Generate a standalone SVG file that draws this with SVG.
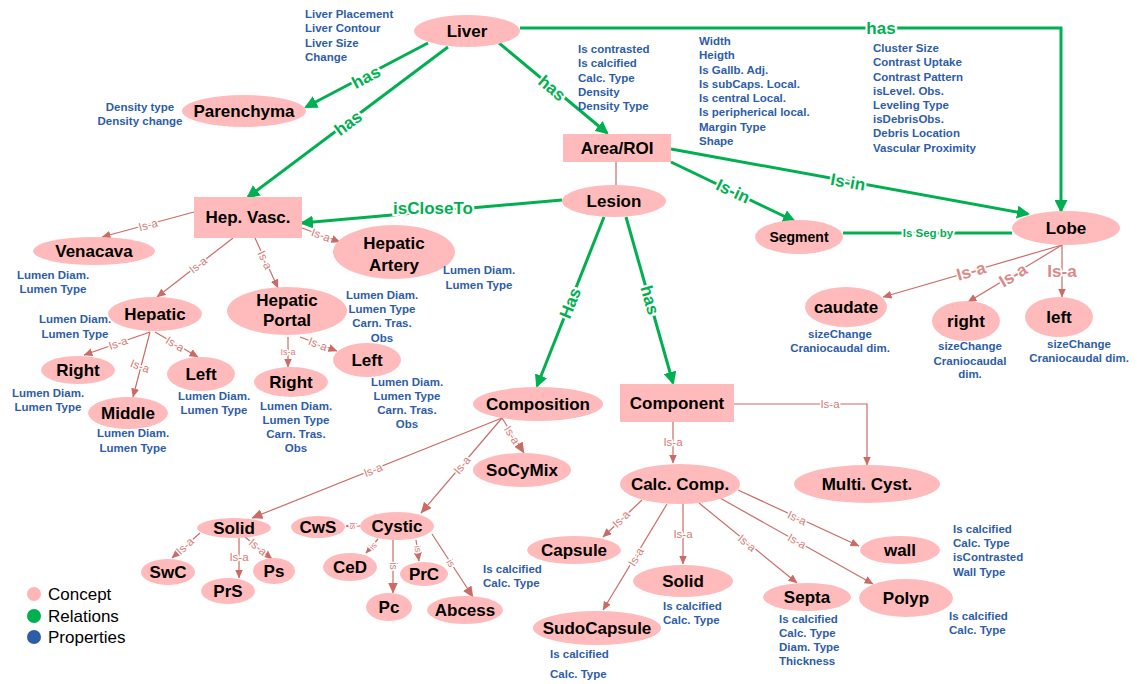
<svg xmlns="http://www.w3.org/2000/svg" width="1137" height="684" viewBox="0 0 1137 684">
<defs>
<marker id="ga" viewBox="0 0 13 13" markerWidth="13" markerHeight="13" refX="11" refY="6.5" orient="auto" markerUnits="userSpaceOnUse"><path d="M0,0 L13,6.5 L0,13 z" fill="#00B050"/></marker>
<marker id="ra" viewBox="0 0 9 8" markerWidth="9" markerHeight="8" refX="8.5" refY="4" orient="auto" markerUnits="userSpaceOnUse"><path d="M0,0 L9,4 L0,8 z" fill="#CC6B66"/></marker>
<marker id="rb" viewBox="0 0 11 10" markerWidth="11" markerHeight="10" refX="10.5" refY="5" orient="auto" markerUnits="userSpaceOnUse"><path d="M0,0 L11,5 L0,10 z" fill="#CC6B66"/></marker>
</defs>
<style>
.c{fill:#FFBBBB;stroke:none}
.t{font-family:"Liberation Sans",Arial,sans-serif;font-weight:bold;font-size:17px;fill:#000;text-anchor:middle}
.p{font-family:"Liberation Sans",Arial,sans-serif;font-weight:bold;font-size:11.5px;fill:#2E5DA8}
.pm{text-anchor:middle}
.g{fill:none;stroke:#00B050;stroke-width:3}
.gl{font-family:"Liberation Sans",Arial,sans-serif;font-weight:bold;font-size:17px;fill:#00B050;text-anchor:middle;stroke:#fff;stroke-width:4;paint-order:stroke}
.r{fill:none;stroke:#CC6B66;stroke-width:1.2}
.rl{font-family:"Liberation Sans",Arial,sans-serif;font-size:11.5px;fill:#D47C77;text-anchor:middle;stroke:#fff;stroke-width:3;paint-order:stroke}
.rL{font-family:"Liberation Sans",Arial,sans-serif;font-weight:bold;font-size:17px;fill:#D98A86;text-anchor:middle;stroke:#fff;stroke-width:3;paint-order:stroke}
.lg{font-family:"Liberation Sans",Arial,sans-serif;font-size:17px;fill:#000}
</style>
<rect width="1137" height="684" fill="#fff"/>

<g id="connectors">
<!-- green relations -->
<line class="g" x1="428" y1="43" x2="306" y2="107" marker-end="url(#ga)"/>
<line class="g" x1="448" y1="47" x2="248" y2="197" marker-end="url(#ga)"/>
<line class="g" x1="499" y1="43" x2="607" y2="133" marker-end="url(#ga)"/>
<path class="g" d="M520,28 H1061 V211" marker-end="url(#ga)"/>
<line class="g" x1="671" y1="149" x2="1028" y2="214" marker-end="url(#ga)"/>
<line class="g" x1="671" y1="162" x2="794" y2="221" marker-end="url(#ga)"/>
<line class="g" x1="843" y1="233" x2="1012" y2="233"/>
<line class="g" x1="562" y1="200" x2="302" y2="223" marker-end="url(#ga)"/>
<line class="g" x1="604" y1="217" x2="537" y2="386" marker-end="url(#ga)"/>
<line class="g" x1="626" y1="217" x2="673" y2="383" marker-end="url(#ga)"/>
<text class="gl" transform="translate(366,77) rotate(-28)" dy="0.35em">has</text>
<text class="gl" transform="translate(348,123) rotate(-37)" dy="0.35em">has</text>
<text class="gl" transform="translate(552,88) rotate(40)" dy="0.35em">has</text>
<text class="gl" x="881" y="28" dy="0.35em">has</text>
<text class="gl" transform="translate(848,182) rotate(10)" dy="0.35em">Is-in</text>
<text class="gl" transform="translate(733,191) rotate(25)" dy="0.35em">Is-in</text>
<text class="gl" x="928" y="233" dy="0.35em" style="font-size:11.5px">Is Seg by</text>
<text class="gl" x="433" y="208" dy="0.35em">isCloseTo</text>
<text class="gl" transform="translate(570,303) rotate(-68)" dy="0.35em">Has</text>
<text class="gl" transform="translate(650,300) rotate(74)" dy="0.35em">has</text>

<!-- is-a relations -->
<line class="r" x1="616" y1="162" x2="616" y2="185"/>
<line class="r" x1="194" y1="212" x2="102" y2="237" marker-end="url(#ra)"/>
<line class="r" x1="302" y1="228" x2="340" y2="242" marker-end="url(#ra)"/>
<line class="r" x1="233" y1="238" x2="157" y2="297" marker-end="url(#ra)"/>
<line class="r" x1="255" y1="238" x2="278" y2="288" marker-end="url(#ra)"/>
<line class="r" x1="150" y1="332" x2="84" y2="355" marker-end="url(#ra)"/>
<line class="r" x1="150" y1="332" x2="133" y2="397" marker-end="url(#ra)"/>
<line class="r" x1="155" y1="332" x2="198" y2="357" marker-end="url(#ra)"/>
<line class="r" x1="288" y1="337" x2="288" y2="367" marker-end="url(#ra)"/>
<line class="r" x1="300" y1="337" x2="337" y2="351" marker-end="url(#ra)"/>
<line class="r" x1="502" y1="418" x2="252" y2="518" marker-end="url(#rb)"/>
<line class="r" x1="502" y1="418" x2="421" y2="513" marker-end="url(#rb)"/>
<line class="r" x1="502" y1="418" x2="524" y2="453" marker-end="url(#rb)"/>
<line class="r" x1="673" y1="422" x2="673" y2="463" marker-end="url(#ra)"/>
<path class="r" d="M734,404 H867 V465" marker-end="url(#ra)"/>
<line class="r" x1="200" y1="533" x2="172" y2="558" marker-end="url(#ra)"/>
<line class="r" x1="239" y1="538" x2="239" y2="578" marker-end="url(#ra)"/>
<line class="r" x1="245" y1="537" x2="272" y2="559" marker-end="url(#ra)"/>
<line class="r" x1="360" y1="526" x2="346" y2="526" marker-end="url(#ra)"/>
<line class="r" x1="378" y1="539" x2="366" y2="553" marker-end="url(#ra)"/>
<line class="r" x1="393" y1="540" x2="393" y2="593" marker-end="url(#rb)"/>
<line class="r" x1="416" y1="540" x2="419" y2="561" marker-end="url(#ra)"/>
<line class="r" x1="432" y1="534" x2="473" y2="597" marker-end="url(#rb)"/>
<line class="r" x1="642" y1="500" x2="603" y2="537" marker-end="url(#ra)"/>
<line class="r" x1="667" y1="504" x2="603" y2="610" marker-end="url(#ra)"/>
<line class="r" x1="683" y1="504" x2="683" y2="564" marker-end="url(#ra)"/>
<line class="r" x1="699" y1="503" x2="797" y2="583" marker-end="url(#ra)"/>
<line class="r" x1="720" y1="498" x2="873" y2="584" marker-end="url(#ra)"/>
<line class="r" x1="738" y1="490" x2="859" y2="546" marker-end="url(#ra)"/>
<line class="r" x1="1062" y1="245" x2="883" y2="297" marker-end="url(#ra)"/>
<line class="r" x1="1062" y1="245" x2="968" y2="302" marker-end="url(#ra)"/>
<line class="r" x1="1062" y1="245" x2="1062" y2="297" marker-end="url(#ra)"/>

<text class="rl" transform="translate(148,225) rotate(-15)" dy="0.35em">Is-a</text>
<text class="rl" transform="translate(321,235) rotate(20)" dy="0.35em">Is-a</text>
<text class="rl" transform="translate(198,265) rotate(-38)" dy="0.35em">Is-a</text>
<text class="rl" transform="translate(265,260) rotate(65)" dy="0.35em">Is-a</text>
<text class="rl" transform="translate(118,343) rotate(-19)" dy="0.35em">Is-a</text>
<text class="rl" transform="translate(140,366) rotate(20)" dy="0.35em">Is-a</text>
<text class="rl" transform="translate(175,344) rotate(30)" dy="0.35em">Is-a</text>
<text class="rl" x="288" y="352" dy="0.35em" style="font-size:9px">Is-a</text>
<text class="rl" transform="translate(318,344) rotate(21)" dy="0.35em">Is-a</text>
<text class="rl" transform="translate(373,470) rotate(-22)" dy="0.35em">Is-a</text>
<text class="rl" transform="translate(462,465) rotate(-50)" dy="0.35em">Is-a</text>
<text class="rl" transform="translate(512,435) rotate(58)" dy="0.35em">Is-a</text>
<text class="rl" x="673" y="442" dy="0.35em">Is-a</text>
<text class="rl" x="830" y="404" dy="0.35em">Is-a</text>
<text class="rl" transform="translate(185,546) rotate(-42)" dy="0.35em">Is-a</text>
<text class="rl" x="239" y="557" dy="0.35em">Is-a</text>
<text class="rl" transform="translate(258,547) rotate(39)" dy="0.35em">Is-a</text>
<text class="rl" transform="translate(353,526) rotate(90)" dy="0.35em" style="font-size:9px">is</text>
<text class="rl" transform="translate(373,546) rotate(-50)" dy="0.35em" style="font-size:9px">is</text>
<text class="rl" transform="translate(393,566) rotate(90)" dy="0.35em" style="font-size:10px">is</text>
<text class="rl" transform="translate(418,549) rotate(80)" dy="0.35em" style="font-size:9px">is</text>
<text class="rl" transform="translate(451,563) rotate(57)" dy="0.35em" style="font-size:10px">is</text>
<text class="rl" transform="translate(621,519) rotate(-44)" dy="0.35em">Is-a</text>
<text class="rl" transform="translate(636,557) rotate(-59)" dy="0.35em">Is-a</text>
<text class="rl" x="683" y="534" dy="0.35em">Is-a</text>
<text class="rl" transform="translate(747,543) rotate(39)" dy="0.35em">Is-a</text>
<text class="rl" transform="translate(797,541) rotate(29)" dy="0.35em">Is-a</text>
<text class="rl" transform="translate(797,518) rotate(25)" dy="0.35em">Is-a</text>
<text class="rL" transform="translate(971,271) rotate(-16)" dy="0.35em">Is-a</text>
<text class="rL" transform="translate(1013,275) rotate(-31)" dy="0.35em">Is-a</text>
<text class="rL" x="1062" y="271" dy="0.35em">Is-a</text>
</g>

<g id="liver"><ellipse class="c" cx="467" cy="31" rx="53" ry="16"/><text class="t" x="467" y="31" dy="0.35em">Liver</text>
<text class="p"><tspan x="305" y="18">Liver Placement</tspan><tspan x="305" y="32">Liver Contour</tspan><tspan x="305" y="47">Liver Size</tspan><tspan x="305" y="61">Change</tspan></text></g>
<g id="parenchyma"><ellipse class="c" cx="244" cy="111" rx="62" ry="16"/><text class="t" x="244" y="111" dy="0.35em">Parenchyma</text>
<text class="p pm"><tspan x="140" y="111">Density type</tspan><tspan x="140" y="125">Density change</tspan></text></g>
<g id="hepvasc"><rect class="c" x="194" y="197" width="108" height="41"/><text class="t" x="248" y="217" dy="0.35em">Hep. Vasc.</text></g>
<g id="arearoi"><rect class="c" x="563" y="134" width="108" height="28"/><text class="t" x="617" y="148" dy="0.35em">Area/ROI</text>
<text class="p"><tspan x="578" y="53">Is contrasted</tspan><tspan x="578" y="67">Is calcified</tspan><tspan x="578" y="82">Calc. Type</tspan><tspan x="578" y="96">Density</tspan><tspan x="578" y="110">Density Type</tspan></text></g>
<g id="lesion"><ellipse class="c" cx="614" cy="201" rx="52" ry="16"/><text class="t" x="614" y="201" dy="0.35em">Lesion</text>
<text class="p"><tspan x="699" y="45">Width</tspan><tspan x="699" y="59">Heigth</tspan><tspan x="699" y="74">Is Gallb. Adj.</tspan><tspan x="699" y="88">Is subCaps. Local.</tspan><tspan x="699" y="102">Is central Local.</tspan><tspan x="699" y="116">Is peripherical local.</tspan><tspan x="699" y="131">Margin Type</tspan><tspan x="699" y="145">Shape</tspan></text></g>
<g id="segment"><ellipse class="c" cx="799" cy="237" rx="44" ry="17"/><text class="t" x="799" y="237" dy="0.35em" style="font-size:14px">Segment</text></g>
<g id="lobe"><ellipse class="c" cx="1066" cy="228" rx="54" ry="17"/><text class="t" x="1066" y="228" dy="0.35em">Lobe</text>
<text class="p"><tspan x="873" y="52">Cluster Size</tspan><tspan x="873" y="66">Contrast Uptake</tspan><tspan x="873" y="81">Contrast Pattern</tspan><tspan x="873" y="95">isLevel. Obs.</tspan><tspan x="873" y="109">Leveling Type</tspan><tspan x="873" y="123">isDebrisObs.</tspan><tspan x="873" y="137">Debris Location</tspan><tspan x="873" y="152">Vascular Proximity</tspan></text></g>
<g id="venacava"><ellipse class="c" cx="94" cy="251" rx="61" ry="14"/><text class="t" x="94" y="251" dy="0.35em">Venacava</text>
<text class="p pm"><tspan x="53" y="279">Lumen Diam.</tspan><tspan x="53" y="293">Lumen Type</tspan></text></g>
<g id="hepaticartery"><ellipse class="c" cx="394" cy="252" rx="61" ry="27"/><text class="t" x="394" y="243" dy="0.35em">Hepatic</text><text class="t" x="394" y="265" dy="0.35em">Artery</text>
<text class="p pm"><tspan x="479" y="274">Lumen Diam.</tspan><tspan x="479" y="289">Lumen Type</tspan></text></g>
<g id="hepatic"><ellipse class="c" cx="155" cy="314" rx="47" ry="17"/><text class="t" x="155" y="314" dy="0.35em">Hepatic</text>
<text class="p pm"><tspan x="75" y="323">Lumen Diam.</tspan><tspan x="75" y="338">Lumen Type</tspan></text></g>
<g id="hepaticportal"><ellipse class="c" cx="287" cy="311" rx="60" ry="24"/><text class="t" x="287" y="300" dy="0.35em">Hepatic</text><text class="t" x="287" y="320" dy="0.35em">Portal</text>
<text class="p pm"><tspan x="382" y="299">Lumen Diam.</tspan><tspan x="382" y="313">Lumen Type</tspan><tspan x="382" y="327">Carn. Tras.</tspan><tspan x="382" y="342">Obs</tspan></text></g>
<g id="hep-right"><ellipse class="c" cx="78" cy="370" rx="37" ry="14"/><text class="t" x="78" y="370" dy="0.35em">Right</text>
<text class="p pm"><tspan x="48" y="397">Lumen Diam.</tspan><tspan x="48" y="411">Lumen Type</tspan></text></g>
<g id="hep-left"><ellipse class="c" cx="201" cy="374" rx="34" ry="17"/><text class="t" x="201" y="374" dy="0.35em">Left</text>
<text class="p pm"><tspan x="214" y="400">Lumen Diam.</tspan><tspan x="214" y="414">Lumen Type</tspan></text></g>
<g id="hep-middle"><ellipse class="c" cx="128" cy="413" rx="40" ry="16"/><text class="t" x="128" y="413" dy="0.35em">Middle</text>
<text class="p pm"><tspan x="133" y="437">Lumen Diam.</tspan><tspan x="133" y="452">Lumen Type</tspan></text></g>
<g id="portal-right"><ellipse class="c" cx="291" cy="382" rx="37" ry="15"/><text class="t" x="291" y="382" dy="0.35em">Right</text>
<text class="p pm"><tspan x="296" y="410">Lumen Diam.</tspan><tspan x="296" y="424">Lumen Type</tspan><tspan x="296" y="438">Carn. Tras.</tspan><tspan x="296" y="452">Obs</tspan></text></g>
<g id="portal-left"><ellipse class="c" cx="367" cy="360" rx="34" ry="17"/><text class="t" x="367" y="360" dy="0.35em">Left</text>
<text class="p pm"><tspan x="407" y="386">Lumen Diam.</tspan><tspan x="407" y="400">Lumen Type</tspan><tspan x="407" y="414">Carn. Tras.</tspan><tspan x="407" y="428">Obs</tspan></text></g>
<g id="composition"><ellipse class="c" cx="538" cy="404" rx="65" ry="17"/><text class="t" x="538" y="404" dy="0.35em">Composition</text></g>
<g id="component"><rect class="c" x="620" y="384" width="114" height="38"/><text class="t" x="677" y="403" dy="0.35em">Component</text></g>
<g id="socymix"><ellipse class="c" cx="522" cy="470" rx="49" ry="17"/><text class="t" x="522" y="470" dy="0.35em">SoCyMix</text></g>
<g id="calccomp"><ellipse class="c" cx="680" cy="484" rx="60" ry="20"/><text class="t" x="680" y="484" dy="0.35em">Calc. Comp.</text></g>
<g id="multicyst"><ellipse class="c" cx="867" cy="484" rx="73" ry="19"/><text class="t" x="867" y="484" dy="0.35em">Multi. Cyst.</text></g>
<g id="solid-comp"><ellipse class="c" cx="234" cy="528" rx="37" ry="10"/><text class="t" x="234" y="528" dy="0.35em">Solid</text></g>
<g id="swc"><ellipse class="c" cx="168" cy="572" rx="27" ry="13"/><text class="t" x="168" y="572" dy="0.35em">SwC</text></g>
<g id="prs"><ellipse class="c" cx="228" cy="591" rx="27" ry="13"/><text class="t" x="228" y="591" dy="0.35em">PrS</text></g>
<g id="ps"><ellipse class="c" cx="274" cy="571" rx="21" ry="13"/><text class="t" x="274" y="571" dy="0.35em">Ps</text></g>
<g id="cws"><ellipse class="c" cx="318" cy="527" rx="27" ry="11"/><text class="t" x="318" y="527" dy="0.35em">CwS</text></g>
<g id="cystic"><ellipse class="c" cx="397" cy="526" rx="37" ry="14"/><text class="t" x="397" y="526" dy="0.35em">Cystic</text></g>
<g id="ced"><ellipse class="c" cx="350" cy="567" rx="27" ry="14"/><text class="t" x="350" y="567" dy="0.35em">CeD</text></g>
<g id="prc"><ellipse class="c" cx="424" cy="574" rx="24" ry="12"/><text class="t" x="424" y="574" dy="0.35em">PrC</text></g>
<g id="pc"><ellipse class="c" cx="389" cy="607" rx="23" ry="14"/><text class="t" x="389" y="607" dy="0.35em">Pc</text></g>
<g id="abcess"><ellipse class="c" cx="465" cy="610" rx="38" ry="14"/><text class="t" x="465" y="610" dy="0.35em">Abcess</text></g>
<g id="capsule"><ellipse class="c" cx="574" cy="550" rx="47" ry="14"/><text class="t" x="574" y="550" dy="0.35em">Capsule</text>
<text class="p"><tspan x="483" y="573">Is calcified</tspan><tspan x="483" y="587">Calc. Type</tspan></text></g>
<g id="solid-calc"><ellipse class="c" cx="683" cy="581" rx="50" ry="16"/><text class="t" x="683" y="581" dy="0.35em">Solid</text>
<text class="p"><tspan x="663" y="610">Is calcified</tspan><tspan x="663" y="624">Calc. Type</tspan></text></g>
<g id="sudocapsule"><ellipse class="c" cx="597" cy="628" rx="64" ry="17"/><text class="t" x="597" y="628" dy="0.35em">SudoCapsule</text>
<text class="p"><tspan x="550" y="658">Is calcified</tspan><tspan x="550" y="678">Calc. Type</tspan></text></g>
<g id="septa"><ellipse class="c" cx="807" cy="597" rx="44" ry="14"/><text class="t" x="807" y="597" dy="0.35em">Septa</text>
<text class="p"><tspan x="779" y="623">Is calcified</tspan><tspan x="779" y="637">Calc. Type</tspan><tspan x="779" y="651">Diam. Type</tspan><tspan x="779" y="665">Thickness</tspan></text></g>
<g id="polyp"><ellipse class="c" cx="906" cy="598" rx="47" ry="19"/><text class="t" x="906" y="598" dy="0.35em">Polyp</text>
<text class="p"><tspan x="949" y="620">Is calcified</tspan><tspan x="949" y="634">Calc. Type</tspan></text></g>
<g id="wall"><ellipse class="c" cx="900" cy="550" rx="40" ry="14"/><text class="t" x="900" y="550" dy="0.35em">wall</text>
<text class="p"><tspan x="953" y="533">Is calcified</tspan><tspan x="953" y="547">Calc. Type</tspan><tspan x="953" y="561">isContrasted</tspan><tspan x="953" y="576">Wall Type</tspan></text></g>
<g id="caudate"><ellipse class="c" cx="846" cy="307" rx="41" ry="20"/><text class="t" x="846" y="307" dy="0.35em">caudate</text>
<text class="p pm"><tspan x="840" y="338">sizeChange</tspan><tspan x="840" y="352">Craniocaudal dim.</tspan></text></g>
<g id="lobe-right"><ellipse class="c" cx="966" cy="321" rx="34" ry="20"/><text class="t" x="966" y="321" dy="0.35em">right</text>
<text class="p pm"><tspan x="970" y="350">sizeChange</tspan><tspan x="970" y="365">Craniocaudal</tspan><tspan x="970" y="378">dim.</tspan></text></g>
<g id="lobe-left"><ellipse class="c" cx="1059" cy="317" rx="34" ry="20"/><text class="t" x="1059" y="317" dy="0.35em">left</text>
<text class="p pm"><tspan x="1079" y="348">sizeChange</tspan><tspan x="1079" y="362">Craniocaudal dim.</tspan></text></g>

<g id="legend">
<circle cx="34" cy="594" r="7" fill="#FFB6B6"/><text class="lg" x="48" y="600">Concept</text>
<circle cx="34" cy="616" r="7" fill="#00B050"/><text class="lg" x="48" y="622">Relations</text>
<circle cx="34" cy="637" r="7" fill="#2E5DA8"/><text class="lg" x="48" y="643">Properties</text>
</g>
</svg>
